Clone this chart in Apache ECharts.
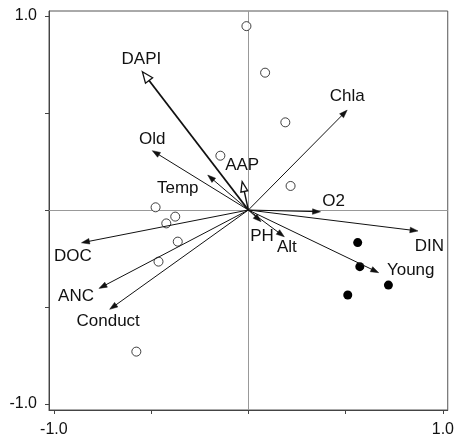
<!DOCTYPE html>
<html>
<head>
<meta charset="utf-8">
<script src="https://cdn.jsdelivr.net/npm/echarts@6/dist/echarts.min.js"></script>
<style>html,body{margin:0;padding:0;background:#fff;}#c{width:457px;height:439px;}</style>
</head>
<body>
<div id="c"></div>
<script>
// ---- data ----
const arrowNames = ['DAPI','Old','Temp','AAP','Chla','O2','DIN','Young','PH','Alt','DOC','ANC','Conduct'];
const arrowX = [-0.545,-0.494,-0.209,-0.032,0.508,0.371,0.872,0.670,0.065,0.185,-0.858,-0.768,-0.713];
const arrowY = [0.713,0.306,0.180,0.146,0.515,-0.009,-0.108,-0.323,-0.060,-0.138,-0.169,-0.404,-0.512];
const openX = [-0.010,0.086,0.190,0.217,-0.144,-0.477,-0.376,-0.422,-0.363,-0.462,-0.576];
const openY = [0.948,0.708,0.452,0.124,0.280,0.014,-0.034,-0.069,-0.163,-0.266,-0.730];
const filledX = [0.562,0.573,0.720,0.511];
const filledY = [-0.168,-0.292,-0.387,-0.438];
const tickValues = [-1,-0.5,0,0.5,1];
const tickLabels = [-1,1];

// ---- layout / style config (not data) ----
const labelOffset = {
  DAPI:[-1,-12], Old:[0,-11], Temp:[-30,13.5], AAP:[0,-16], Chla:[0,-13.5], O2:[13,-10],
  DIN:[11.5,15.5], Young:[32,-2], PH:[1,15], Alt:[2.5,11], DOC:[-8.7,14], ANC:[-23,8], Conduct:[-1.5,12]
};
const hollow = {DAPI:{len:11,half:4.5,w:1.8}, AAP:{len:10,half:3.5,w:1.4}};
const FONT = '"Liberation Sans", Arial, sans-serif';
const INK = '#111';

const arrowData = arrowNames.map((n,i)=>[arrowX[i], arrowY[i], n]);
const openData = openX.map((x,i)=>[x, openY[i]]);
const filledData = filledX.map((x,i)=>[x, filledY[i]]);

function renderArrow(params, api){
  const name = arrowNames[params.dataIndex];
  const o = api.coord([0,0]);
  const t = api.coord([api.value(0), api.value(1)]);
  const dx = t[0]-o[0], dy = t[1]-o[1];
  const L = Math.sqrt(dx*dx+dy*dy);
  const ux = dx/L, uy = dy/L, px = -uy, py = ux;
  const h = hollow[name];
  const len = h ? h.len : 8, half = h ? h.half : 2.8, w = h ? h.w : 1;
  const bx = t[0]-ux*len, by = t[1]-uy*len;
  const children = [];
  children.push({type:'line', shape:{x1:o[0],y1:o[1],x2:h?bx:t[0]-ux*3,y2:h?by:t[1]-uy*3},
    style:{stroke:INK, lineWidth:w}});
  children.push({type:'polygon', shape:{points:[[t[0],t[1]],[bx+px*half,by+py*half],[bx-px*half,by-py*half]]},
    style:{fill:h?'#fff':INK, stroke:INK, lineWidth:h?1.3:0.5}});
  const off = labelOffset[name];
  children.push({type:'text', style:{text:name, x:t[0]+off[0], y:t[1]+off[1], align:'center', verticalAlign:'middle',
    font:'17px '+FONT, fill:INK}});
  return {type:'group', children};
}

const chart = echarts.init(document.getElementById('c'), null, {renderer:'canvas'});
const axisCommon = {
  type:'value',
  axisLine:{show:true, onZero:false, lineStyle:{color:'#444', width:1}},
  axisTick:{show:true, inside:false, length:4, customValues:tickValues, lineStyle:{color:'#444'}},
  axisLabel:{show:true, customValues:tickLabels, formatter:v=>Number(v).toFixed(1), fontSize:16, color:INK, fontFamily:FONT},
  splitLine:{show:false}
};
chart.setOption({
  animation:false,
  grid:{left:49, top:11, width:400, height:399, show:true, borderColor:'#555', borderWidth:1, containLabel:false},
  xAxis:Object.assign({}, axisCommon, {min:-1.025, max:1.025, position:'bottom',
    axisLabel:Object.assign({}, axisCommon.axisLabel, {margin:12})}),
  yAxis:Object.assign({}, axisCommon, {min:-1.031, max:1.026, position:'left',
    axisLabel:Object.assign({}, axisCommon.axisLabel, {margin:12})}),
  series:[
    {type:'scatter', data:openData, symbol:'circle', symbolSize:9, silent:true,
      itemStyle:{color:'#fff', borderColor:INK, borderWidth:1},
      markLine:{silent:true, symbol:'none', label:{show:false}, lineStyle:{color:'#999', width:1, type:'solid'},
        data:[{xAxis:0},{yAxis:0}], z:1},
      z:3},
    {type:'scatter', data:filledData, symbol:'circle', symbolSize:9, silent:true,
      itemStyle:{color:'#000', opacity:1}, z:3},
    {type:'custom', data:arrowData, renderItem:renderArrow, silent:true, z:4}
  ]
});
</script>
</body>
</html>
